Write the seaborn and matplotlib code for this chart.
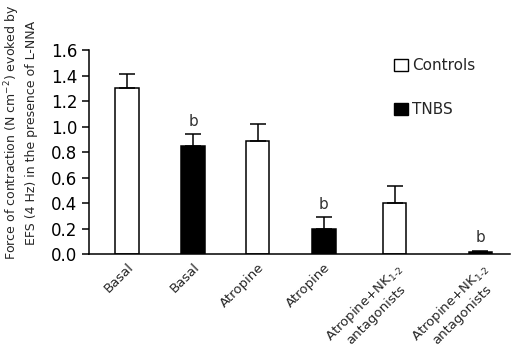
import numpy as np
import pandas as pd
import matplotlib
matplotlib.use("Agg")
import matplotlib.pyplot as plt
import matplotlib.transforms as mtransforms
import seaborn as sns
from matplotlib.patches import Patch

# Data
bar_pos = [0, 1, 1.98, 2.98, 4.05, 5.35]
tick_labels = ["Basal", "Basal", "Atropine", "Atropine",
               "Atropine+NK$_{1\u20112}$\nantagonists", "Atropine+NK$_{1\u20112}$\nantagonists"]
groups = ["Controls", "TNBS", "Controls", "TNBS", "Controls", "TNBS"]
means = [1.30, 0.85, 0.89, 0.20, 0.40, 0.015]
sems = [0.11, 0.09, 0.13, 0.09, 0.13, 0.012]
sig = ["", "b", "", "b", "", "b"]

df = pd.DataFrame({"pos": bar_pos, "value": means, "group": groups})
colors = {"Controls": "white", "TNBS": "black"}

sns.set_theme(style="ticks")
plt.rcParams["font.family"] = ["DejaVu Sans"]

fig = plt.figure(figsize=(5.21, 3.56), dpi=100)
ax = fig.add_axes([0.171, 0.2865, 0.808, 0.573])

sns.barplot(data=df, x="pos", y="value", hue="group", palette=colors,
            native_scale=True, dodge=False, width=0.36, edgecolor="black",
            linewidth=1.1, legend=False, ax=ax)

ax.errorbar(bar_pos, means, yerr=[np.zeros(len(sems)), sems], fmt="none",
            ecolor="black", elinewidth=1.1, capsize=6, capthick=1.1)

for xi, m, s, lab in zip(bar_pos, means, sems, sig):
    if lab:
        ax.text(xi, m + s + 0.04, lab, ha="center", va="bottom",
                fontsize=11, color="#333333")

ax.set_ylim(0, 1.6)
ax.set_xlim(-0.576, 5.80)
yt = np.arange(0, 1.61, 0.2)
ax.set_yticks(yt)
ax.set_yticklabels([f"{v:.1f}" for v in yt], fontsize=12)
ax.set_xticks(bar_pos)
ax.set_xticklabels(tick_labels, rotation=45, ha="right",
                   rotation_mode="anchor", fontsize=9.5, multialignment="center")
shift = mtransforms.ScaledTranslation(-5 / 72, 1 / 72, fig.dpi_scale_trans)
for lab in ax.get_xticklabels():
    lab.set_transform(lab.get_transform() + shift)
ax.tick_params(axis="x", length=0, pad=5)
ax.tick_params(axis="y", length=5, width=1.1, colors="black")
ax.set_xlabel("")
ax.set_ylabel("Force of contraction (N cm$^{-2}$) evoked by\nEFS (4 Hz) in the presence of L-NNA",
              fontsize=9, linespacing=1.35)
ax.yaxis.set_label_coords(-0.121, 0.595)
for side in ["top", "right"]:
    ax.spines[side].set_visible(False)
for side in ["left", "bottom"]:
    ax.spines[side].set_linewidth(1.1)
    ax.spines[side].set_color("black")

handles = [Patch(facecolor="white", edgecolor="black", linewidth=1, label="Controls"),
           Patch(facecolor="black", edgecolor="black", label="TNBS")]
fig.legend(handles=handles, loc="upper left", bbox_to_anchor=(0.73, 0.875),
           frameon=False, handlelength=0.9, handleheight=0.9, handletextpad=0.3,
           labelspacing=1.9, fontsize=11)

fig.savefig("out.png", dpi=100)
